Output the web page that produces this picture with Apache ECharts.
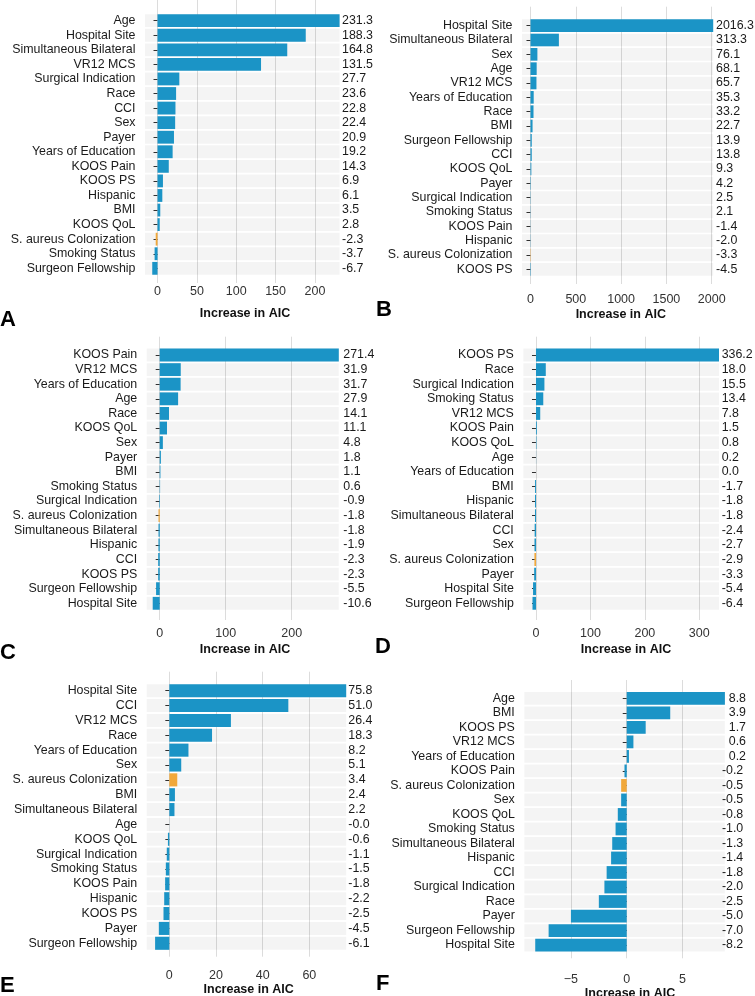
<!DOCTYPE html>
<html><head><meta charset="utf-8">
<script src="https://cdn.jsdelivr.net/npm/echarts@6/dist/echarts.min.js"></script>
<style>html,body{margin:0;padding:0;background:#fff}#chart{width:755px;height:996px}</style>
</head><body><div id="chart"></div>
<script>
// ---------- DATA ----------
const HIGHLIGHT = "S. aureus Colonization";

const A_labels = ["Age","Hospital Site","Simultaneous Bilateral","VR12 MCS","Surgical Indication","Race","CCI","Sex","Payer","Years of Education","KOOS Pain","KOOS PS","Hispanic","BMI","KOOS QoL","S. aureus Colonization","Smoking Status","Surgeon Fellowship"];
const A_values = [231.3,188.3,164.8,131.5,27.7,23.6,22.8,22.4,20.9,19.2,14.3,6.9,6.1,3.5,2.8,-2.3,-3.7,-6.7];
const A_ticks = [0,50,100,150,200];

const B_labels = ["Hospital Site","Simultaneous Bilateral","Sex","Age","VR12 MCS","Years of Education","Race","BMI","Surgeon Fellowship","CCI","KOOS QoL","Payer","Surgical Indication","Smoking Status","KOOS Pain","Hispanic","S. aureus Colonization","KOOS PS"];
const B_values = [2016.3,313.3,76.1,68.1,65.7,35.3,33.2,22.7,13.9,13.8,9.3,4.2,2.5,2.1,-1.4,-2.0,-3.3,-4.5];
const B_ticks = [0,500,1000,1500,2000];

const C_labels = ["KOOS Pain","VR12 MCS","Years of Education","Age","Race","KOOS QoL","Sex","Payer","BMI","Smoking Status","Surgical Indication","S. aureus Colonization","Simultaneous Bilateral","Hispanic","CCI","KOOS PS","Surgeon Fellowship","Hospital Site"];
const C_values = [271.4,31.9,31.7,27.9,14.1,11.1,4.8,1.8,1.1,0.6,-0.9,-1.8,-1.8,-1.9,-2.3,-2.3,-5.5,-10.6];
const C_ticks = [0,100,200];

const D_labels = ["KOOS PS","Race","Surgical Indication","Smoking Status","VR12 MCS","KOOS Pain","KOOS QoL","Age","Years of Education","BMI","Hispanic","Simultaneous Bilateral","CCI","Sex","S. aureus Colonization","Payer","Hospital Site","Surgeon Fellowship"];
const D_values = [336.2,18.0,15.5,13.4,7.8,1.5,0.8,0.2,0.0,-1.7,-1.8,-1.8,-2.4,-2.7,-2.9,-3.3,-5.4,-6.4];
const D_ticks = [0,100,200,300];

const E_labels = ["Hospital Site","CCI","VR12 MCS","Race","Years of Education","Sex","S. aureus Colonization","BMI","Simultaneous Bilateral","Age","KOOS QoL","Surgical Indication","Smoking Status","KOOS Pain","Hispanic","KOOS PS","Payer","Surgeon Fellowship"];
const E_values = [75.8,51.0,26.4,18.3,8.2,5.1,3.4,2.4,2.2,-0.02,-0.6,-1.1,-1.5,-1.8,-2.2,-2.5,-4.5,-6.1];
const E_ticks = [0,20,40,60];

const F_labels = ["Age","BMI","KOOS PS","VR12 MCS","Years of Education","KOOS Pain","S. aureus Colonization","Sex","KOOS QoL","Smoking Status","Simultaneous Bilateral","Hispanic","CCI","Surgical Indication","Race","Payer","Surgeon Fellowship","Hospital Site"];
const F_values = [8.8,3.9,1.7,0.6,0.2,-0.2,-0.5,-0.5,-0.8,-1.0,-1.3,-1.4,-1.8,-2.0,-2.5,-5.0,-7.0,-8.2];
const F_ticks = [-5,0,5];

const AXIS_TITLE = "Increase in AIC";

// ---------- LAYOUT (pixels) ----------
const panels = [
  {id:"A", labels:A_labels, values:A_values, ticks:A_ticks,
   left:145, maxPx:339.6, xMin:-15.9, top:13.4, bottom:275.6, gTop:0, gBottom:283, gRight:345, lblMargin:2, nameGap:24, valMargin:2.4,
   letter:{x:0, y:320}},
  {id:"B", labels:B_labels, values:B_values, ticks:B_ticks,
   left:522, maxPx:713.2, xMin:-93.8, top:18.5, bottom:276.5, gTop:6.7, gBottom:284, gRight:719.6, lblMargin:9, nameGap:24, valMargin:2.8,
   letter:{x:376, y:310}},
  {id:"C", labels:C_labels, values:C_values, ticks:C_ticks,
   left:146.7, maxPx:338.8, xMin:-19.7, top:347.7, bottom:610.6, gTop:336.7, gBottom:620, gRight:343.3, lblMargin:7.5, nameGap:23, valMargin:4.5,
   letter:{x:0, y:653}},
  {id:"D", labels:D_labels, values:D_values, ticks:D_ticks,
   left:523.3, maxPx:719, xMin:-23.3, top:347.7, bottom:610.6, gTop:336.7, gBottom:620, gRight:728.7, lblMargin:7.5, nameGap:23.5, valMargin:2.7,
   letter:{x:375, y:647}},
  {id:"E", labels:E_labels, values:E_values, ticks:E_ticks,
   left:146.7, maxPx:346.2, xMin:-9.7, top:683.3, bottom:950.7, gTop:671.7, gBottom:956.7, gRight:350.7, lblMargin:12, nameGap:26, valMargin:2.1,
   letter:{x:0, y:986}},
  {id:"F", labels:F_labels, values:F_values, ticks:F_ticks, padPositive:true,
   left:524.3, maxPx:724.9, xMin:-9.18, top:691.1, bottom:952.3, gTop:680, gBottom:958.3, gRight:735.7, lblMargin:15, nameGap:26, valMargin:-3,
   letter:{x:376, y:984}}
];

const BLUE = "#1b94c6", ORANGE = "#f1a83a";
const FONT = "Liberation Sans";

const grid = [], xAxis = [], yAxis = [], series = [], graphic = [];

panels.forEach((p) => {
  const dataMax = Math.max(...p.values);
  const scale = (p.maxPx - p.left) / (dataMax - p.xMin);
  const gMax = p.xMin + (p.gRight - p.left) / scale;

  // Grid G: gridlines, tick labels, title
  const gi = grid.length;
  grid.push({left:p.left, top:p.gTop, width:p.gRight - p.left, height:p.gBottom - p.gTop, containLabel:false, outerBoundsMode:'none'});
  xAxis.push({gridIndex:gi, type:'value', min:p.xMin, max:gMax,
    axisLine:{show:false},
    axisTick:{show:false, customValues:p.ticks},
    splitLine:{show:true, lineStyle:{color:'#dcdcdc', width:1}},
    axisLabel:{customValues:p.ticks, color:'#333', fontFamily:FONT, fontSize:12.5, margin:p.lblMargin,
      formatter:(v)=>String(v).replace('-', '\u2212')},
    name:AXIS_TITLE, nameLocation:'middle', nameGap:p.nameGap,
    nameTextStyle:{fontFamily:FONT, fontSize:12.5, fontWeight:'bold', color:'#111', verticalAlign:'top'}
  });
  yAxis.push({gridIndex:gi, type:'value', min:0, max:1, show:false});

  // Grid R: rows with bars, bands and labels
  const ri = grid.length;
  grid.push({left:p.left, top:p.top, width:p.maxPx - p.left, height:p.bottom - p.top, containLabel:false, outerBoundsMode:'none'});
  xAxis.push({gridIndex:ri, type:'value', min:p.xMin, max:dataMax, show:false});
  const rx = xAxis.length - 1;
  yAxis.push({gridIndex:ri, type:'category', data:p.labels, inverse:true, position:'left', offset:2.5,
    axisLine:{show:false},
    axisTick:{show:true, alignWithLabel:true, interval:0, length:4, lineStyle:{color:'#333', width:1}},
    axisLabel:{interval:0, hideOverlap:false, color:'#1a1a1a', fontFamily:FONT, fontSize:12.4, margin:7}
  });
  const ly = yAxis.length - 1;
  yAxis.push({gridIndex:ri, type:'category', inverse:true, position:'right',
    data:p.values.map(v => { const s = v.toFixed(1); return (p.padPositive && v >= 0) ? '\u2007' + s : s; }),
    axisLine:{show:false}, axisTick:{show:false},
    axisLabel:{interval:0, hideOverlap:false, color:'#1a1a1a', fontFamily:FONT, fontSize:12.4, margin:p.valMargin, align:'left'}
  });

  series.push({type:'bar', xAxisIndex:rx, yAxisIndex:ly,
    data:p.values, barCategoryGap:'12%',
    showBackground:true, backgroundStyle:{color:'rgba(0,0,0,0.045)'},
    itemStyle:{color:(params)=> params.name === HIGHLIGHT ? ORANGE : BLUE},
    silent:true, animation:false
  });

  graphic.push({type:'text', left:p.letter.x, top:p.letter.y - 11,
    style:{text:p.id, font:'bold 22px "Liberation Sans"', fill:'#000'}});
});

const chart = echarts.init(document.getElementById('chart'), null, {renderer:'canvas'});
chart.setOption({backgroundColor:'#fff', animation:false, grid, xAxis, yAxis, series, graphic});
</script></body></html>
